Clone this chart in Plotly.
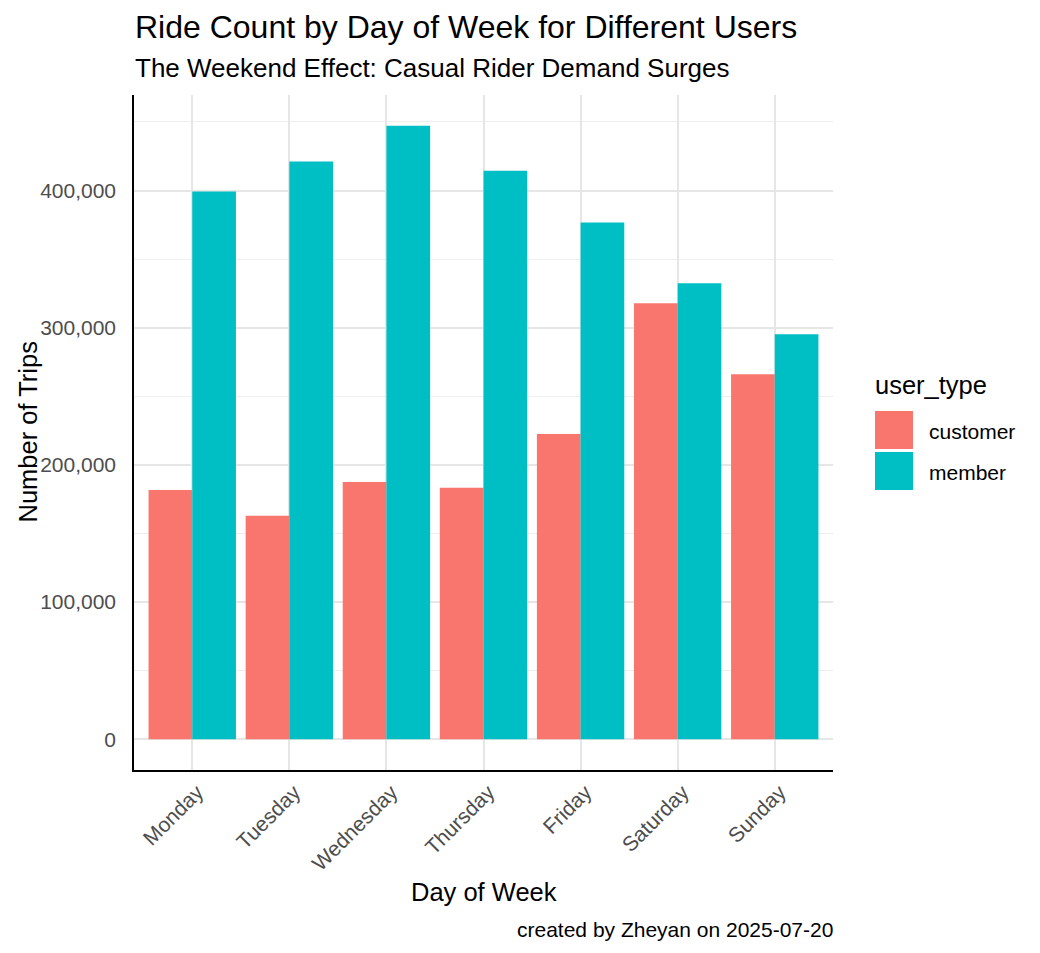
import plotly.graph_objects as go

# dane
days = ["Monday", "Tuesday", "Wednesday", "Thursday", "Friday", "Saturday", "Sunday"]
user_types = ["customer", "member"]
customer_trips = [181800, 162900, 187600, 183300, 222500, 317800, 266200]
member_trips = [399300, 421100, 447300, 414500, 376700, 332400, 295300]
y_ticks = [0, 100000, 200000, 300000, 400000]

colors = {"customer": "#F8766D", "member": "#00BFC4"}
series = {"customer": customer_trips, "member": member_trips}

FONT = "Liberation Sans, Arial, sans-serif"
W, H = 1040, 953
OFF = 8  # margines body strony html
# obszar wykresu na zrzucie: x 134..833, y 95..770
PX0, PX1, PY0, PY1 = 134, 833, 95, 770
L, T = PX0 - OFF, PY0 - OFF
R, B = W - (PX1 - OFF), H - (PY1 - OFF)

fig = go.Figure()
for ut in user_types:
    fig.add_trace(go.Bar(
        x=days, y=series[ut], name=ut,
        marker=dict(color=colors[ut], line=dict(width=0)),
        showlegend=False,
    ))

# zakres jak w ggplot (5% na osi y, 0.6 na osi kategorii)
ymax = max(customer_trips + member_trips)
pad = 0.05 * ymax

fig.update_layout(
    width=W, height=H,
    margin=dict(l=L, r=R, t=T, b=B, pad=0),
    plot_bgcolor="white", paper_bgcolor="white",
    barmode="group", bargap=0.1, bargroupgap=0,
    font=dict(family=FONT, color="black"),
    xaxis=dict(
        range=[-0.6, len(days) - 0.4],
        showgrid=True, gridcolor="#E6E6E6", gridwidth=1.5,
        showline=True, linecolor="black", linewidth=1.5,
        zeroline=False, ticks="", tickangle=-45, ticklabelshift=5,
        tickfont=dict(size=21, color="#4D4D4D"),
    ),
    yaxis=dict(
        range=[-pad, ymax + pad],
        tickvals=y_ticks, tickformat=",",
        showgrid=True, gridcolor="#E6E6E6", gridwidth=1.5,
        minor=dict(dtick=50000, tick0=0, showgrid=True,
                   gridcolor="#EEEEEE", gridwidth=0.8),
        showline=True, linecolor="black", linewidth=1.5,
        zeroline=False, ticks="", ticklabelstandoff=12,
        tickfont=dict(size=21, color="#4D4D4D"),
    ),
)


def px_x(px):
    return (px - PX0) / (PX1 - PX0)


def px_y(py):
    return (PY1 - py) / (PY1 - PY0)


def label(text, x, y, size, xanchor="left", angle=0):
    fig.add_annotation(text=text, textangle=angle,
                       xref="paper", yref="paper", x=px_x(x), y=px_y(y),
                       xanchor=xanchor, yanchor="middle", showarrow=False,
                       font=dict(size=size, color="black"))


# tytuły i podpisy osi
label("Ride Count by Day of Week for Different Users", 133, 27, 32)
label("The Weekend Effect: Casual Rider Demand Surges", 133, 68, 26)
label("Day of Week", (PX0 + PX1) / 2, 892, 25.5, xanchor="center")
label("Number of Trips", 27, (PY0 + PY1) / 2, 25.5, xanchor="center", angle=-90)
label("created by Zheyan on 2025-07-20", PX1 + 2, 929, 21, xanchor="right")

# legenda rysowana ręcznie (duże kwadraty jak w ggplot)
label("user_type", 873, 385, 25.5)
for i, ut in enumerate(user_types):
    top = 411 + i * 41
    fig.add_shape(type="rect", xref="paper", yref="paper",
                  x0=px_x(875), x1=px_x(913), y0=px_y(top + 38), y1=px_y(top),
                  fillcolor=colors[ut], line=dict(width=0))
    label(ut, 927, top + 20, 21)

fig.write_html("out.html")
